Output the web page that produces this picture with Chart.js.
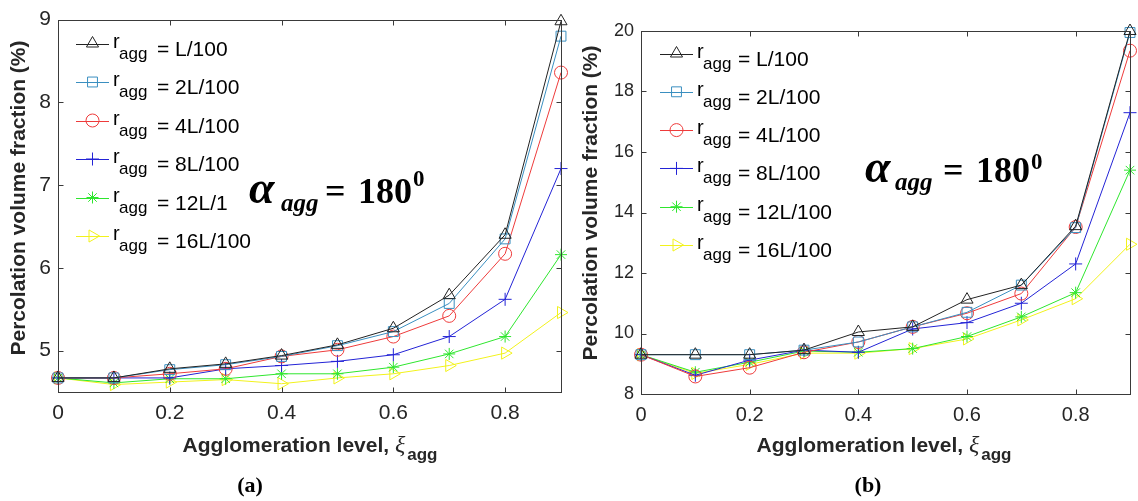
<!DOCTYPE html>
<html>
<head>
<meta charset="utf-8">
<script src="https://cdn.jsdelivr.net/npm/chart.js@4.4.0/dist/chart.umd.min.js"></script>
<style>
  html, body { margin: 0; padding: 0; background: #fff; width: 1138px; height: 501px; overflow: hidden; }
  .panel { position: absolute; top: 0; }
  #wrapA { left: 0; }
  #wrapB { left: 570px; }
</style>
</head>
<body>
<div id="wrapA" class="panel"><canvas id="chartA" width="570" height="501"></canvas></div>
<div id="wrapB" class="panel"><canvas id="chartB" width="568" height="501"></canvas></div>
<script>
// agglomeration level (x) and tick labels
const aggLevels = [0, 0.1, 0.2, 0.3, 0.4, 0.5, 0.6, 0.7, 0.8, 0.9];
const xTickValues = [0, 0.2, 0.4, 0.6, 0.8];
const yTicksA = [5, 6, 7, 8, 9];
const yTicksB = [8, 10, 12, 14, 16, 18, 20];

const seriesNames = ['L/100', '2L/100', '4L/100', '8L/100', '12L/100', '16L/100'];
const legendTextA = ['L/100', '2L/100', '4L/100', '8L/100', '12L/1', '16L/100'];

// panel (a) percolation volume fraction (%)
const fracA_L1 = [4.67, 4.67, 4.78, 4.84, 4.94, 5.07, 5.27, 5.67, 6.40, 8.98];
const fracA_L2 = [4.67, 4.67, 4.77, 4.83, 4.93, 5.06, 5.23, 5.57, 6.35, 8.80];
const fracA_L4 = [4.67, 4.67, 4.72, 4.78, 4.93, 5.01, 5.17, 5.42, 6.17, 8.36];
const fracA_L8 = [4.67, 4.67, 4.67, 4.78, 4.82, 4.87, 4.95, 5.17, 5.62, 7.20];
const fracA_L12 = [4.67, 4.61, 4.66, 4.66, 4.72, 4.72, 4.80, 4.96, 5.17, 6.16];
const fracA_L16 = [4.67, 4.59, 4.62, 4.65, 4.60, 4.67, 4.72, 4.82, 4.97, 5.46];

// panel (b)
const fracB_L1 = [9.30, 9.30, 9.30, 9.45, 10.05, 10.22, 11.12, 11.60, 13.55, 20.00];
const fracB_L2 = [9.30, 9.30, 9.30, 9.45, 9.72, 10.22, 10.70, 11.60, 13.50, 19.95];
const fracB_L4 = [9.30, 8.58, 8.87, 9.38, 9.72, 10.22, 10.67, 11.32, 13.52, 19.35];
const fracB_L8 = [9.30, 8.62, 9.12, 9.45, 9.38, 10.15, 10.36, 11.00, 12.30, 17.30];
const fracB_L12 = [9.30, 8.72, 9.05, 9.42, 9.38, 9.50, 9.90, 10.55, 11.35, 15.40];
const fracB_L16 = [9.30, 8.68, 8.98, 9.35, 9.35, 9.50, 9.82, 10.45, 11.15, 12.95];

const lineColors = ['#222222', '#3a8fc0', '#ee3b3b', '#2323d6', '#2ee62e', '#f2f21c'];
const markerStyles = ['triangle', 'rect', 'circle', 'cross', 'star', 'triangle'];
const markerRadius = [7, 7, 6.5, 6.5, 6, 7];
const markerRotation = [0, 0, 0, 0, 0, 90];

const SANS = '"Liberation Sans", Arial, sans-serif';
const SERIF = '"Liberation Serif", "Times New Roman", serif';

function makeDatasets(seriesList) {
  return seriesList.map((vals, i) => ({
    label: seriesNames[i],
    data: vals.map((v, k) => ({ x: aggLevels[k], y: v })),
    borderColor: lineColors[i],
    backgroundColor: 'rgba(0,0,0,0)',
    borderWidth: 1,
    pointStyle: markerStyles[i],
    pointRadius: markerRadius[i],
    pointRotation: markerRotation[i],
    pointBorderColor: lineColors[i],
    pointBackgroundColor: 'rgba(0,0,0,0)',
    pointBorderWidth: 1,
    tension: 0,
    clip: false
  }));
}

// box, inward ticks, legend, labels
function panelDecor(spec) {
  return {
    id: 'decor',
    afterDatasetsDraw(chart) {
      const { ctx, chartArea: a, scales } = chart;
      ctx.save();
      ctx.strokeStyle = '#3a3a3a';
      ctx.lineWidth = 1;
      const L = Math.round(a.left) + 0.5, T = Math.round(a.top) + 0.5;
      const R = Math.round(a.right) + 0.5, B = Math.round(a.bottom) + 0.5;
      ctx.strokeRect(L, T, R - L, B - T);
      ctx.beginPath();
      xTickValues.forEach(v => {
        const px = Math.round(scales.x.getPixelForValue(v)) + 0.5;
        ctx.moveTo(px, B); ctx.lineTo(px, B - 5);
        ctx.moveTo(px, T); ctx.lineTo(px, T + 5);
      });
      spec.yTicks.forEach(v => {
        const py = Math.round(scales.y.getPixelForValue(v)) + 0.5;
        ctx.moveTo(L, py); ctx.lineTo(L + 5, py);
        ctx.moveTo(R, py); ctx.lineTo(R - 5, py);
      });
      ctx.stroke();

      // everything below is placed in page coordinates
      ctx.translate(-spec.ox, 0);

      // legend
      const lg = spec.legend;
      spec.legendText.forEach((t, i) => {
        const y = lg.y0 + i * lg.dy;
        ctx.strokeStyle = lineColors[i];
        ctx.beginPath();
        ctx.moveTo(lg.x1, Math.round(y) + 0.5);
        ctx.lineTo(lg.x2, Math.round(y) + 0.5);
        ctx.stroke();
        ctx.fillStyle = 'rgba(0,0,0,0)';
        Chart.helpers.drawPoint(ctx, {
          pointStyle: markerStyles[i], radius: markerRadius[i],
          rotation: markerRotation[i], borderWidth: 1
        }, (lg.x1 + lg.x2) / 2, y);
        ctx.fillStyle = '#000';
        ctx.textAlign = 'left';
        ctx.textBaseline = 'alphabetic';
        ctx.font = '20px ' + SANS;
        ctx.fillText('r', lg.xr, y + 4);
        ctx.font = '17px ' + SANS;
        ctx.fillText('agg', lg.xs, y + 15);
        ctx.font = '21px ' + SANS;
        ctx.fillText('= ' + t, lg.xe, y + 12);
      });

      // alpha annotation
      const an = spec.alpha;
      ctx.fillStyle = '#000';
      ctx.font = 'bold italic 46px ' + SERIF;
      ctx.fillText('\u03b1', an.xa, an.y);
      ctx.font = 'bold italic 25px ' + SERIF;
      ctx.fillText('agg', an.xs, an.y + an.sub);
      ctx.font = 'bold 36px ' + SERIF;
      ctx.fillText('=', an.xe, an.y);
      ctx.fillText('180', an.xn, an.y);
      ctx.font = 'bold 23px ' + SERIF;
      ctx.fillText('0', an.xp, an.y - an.sup);

      // y axis title
      ctx.save();
      ctx.translate(spec.ytitle.x, spec.ytitle.y);
      ctx.rotate(-Math.PI / 2);
      ctx.textAlign = 'center';
      ctx.textBaseline = 'middle';
      ctx.fillStyle = '#262626';
      ctx.font = 'bold 21px ' + SANS;
      ctx.fillText('Percolation volume fraction (%)', 0, 0);
      ctx.restore();

      // x axis title with xi subscript
      const xt = spec.xtitle;
      ctx.fillStyle = '#262626';
      ctx.textAlign = 'left';
      ctx.textBaseline = 'alphabetic';
      ctx.font = 'bold 21px ' + SANS;
      const main = 'Agglomeration level, ';
      const w1 = ctx.measureText(main).width;
      ctx.font = 'italic 24px ' + SERIF;
      const w2 = ctx.measureText('\u03be').width;
      ctx.font = 'bold 17px ' + SANS;
      const w3 = ctx.measureText('agg').width;
      const sx = xt.cx - (w1 + w2 + w3 + 2) / 2;
      ctx.font = 'bold 21px ' + SANS;
      ctx.fillText(main, sx, xt.y);
      ctx.font = 'italic 24px ' + SERIF;
      ctx.fillText('\u03be', sx + w1, xt.y);
      ctx.font = 'bold 17px ' + SANS;
      ctx.fillText('agg', sx + w1 + w2 + 2, xt.y + 8);

      // panel label
      ctx.fillStyle = '#000';
      ctx.textAlign = 'center';
      ctx.font = 'bold 22px ' + SERIF;
      ctx.fillText(spec.tag, spec.tagPos.x, spec.tagPos.y);
      ctx.restore();
    }
  };
}

function makeChart(canvasId, seriesList, spec) {
  return new Chart(document.getElementById(canvasId), {
    type: 'line',
    data: { datasets: makeDatasets(seriesList) },
    options: {
      responsive: false,
      animation: false,
      devicePixelRatio: 1,
      layout: { padding: { left: 0, top: spec.top, right: spec.right, bottom: 0 } },
      plugins: { legend: { display: false }, tooltip: { enabled: false } },
      scales: {
        x: {
          type: 'linear', min: 0, max: 0.9,
          grid: { display: false, drawTicks: false },
          border: { display: false },
          afterBuildTicks: s => { s.ticks = xTickValues.map(v => ({ value: v })); },
          afterFit: s => { s.height = spec.xh; },
          ticks: {
            color: '#262626', padding: spec.xpad, maxRotation: 0, autoSkip: false,
            font: { family: SANS, size: spec.xfont },
            callback: v => String(v)
          }
        },
        y: {
          type: 'linear', min: spec.ymin, max: spec.ymax,
          grid: { display: false, drawTicks: false },
          border: { display: false },
          afterBuildTicks: s => { s.ticks = spec.yTicks.map(v => ({ value: v })); },
          afterFit: s => { s.width = spec.yw; },
          ticks: {
            color: '#262626', padding: spec.ypad, autoSkip: false,
            font: { family: SANS, size: spec.yfont },
            callback: v => String(v)
          }
        }
      }
    },
    plugins: [panelDecor(spec)]
  });
}

makeChart('chartA', [fracA_L1, fracA_L2, fracA_L4, fracA_L8, fracA_L12, fracA_L16], {
  ox: 0, top: 18, right: 9, xh: 109, yw: 58, xpad: 9, ypad: 7, xfont: 21, yfont: 21,
  ymin: 4.5, ymax: 9, yTicks: yTicksA, legendText: legendTextA,
  legend: { y0: 43.5, dy: 38.5, x1: 76, x2: 109, xr: 113, xs: 119, xe: 157 },
  alpha: { xa: 249, xs: 281, xe: 325, xn: 358, xp: 413, y: 203, sub: 8, sup: 17 },
  ytitle: { x: 19, y: 198 },
  xtitle: { cx: 310, y: 452 },
  tag: '(a)', tagPos: { x: 250, y: 492 }
});

makeChart('chartB', [fracB_L1, fracB_L2, fracB_L4, fracB_L8, fracB_L12, fracB_L16], {
  ox: 570, top: 31, right: 8, xh: 107, yw: 71, xpad: 9, ypad: 7, xfont: 20, yfont: 18,
  ymin: 8, ymax: 20, yTicks: yTicksB, legendText: seriesNames,
  legend: { y0: 53.5, dy: 38.3, x1: 660, x2: 693, xr: 697, xs: 703, xe: 738 },
  alpha: { xa: 865, xs: 895, xe: 943, xn: 976, xp: 1031, y: 182, sub: 8, sup: 13 },
  ytitle: { x: 591, y: 203 },
  xtitle: { cx: 884, y: 452 },
  tag: '(b)', tagPos: { x: 868, y: 492 }
});
</script>
</body>
</html>
